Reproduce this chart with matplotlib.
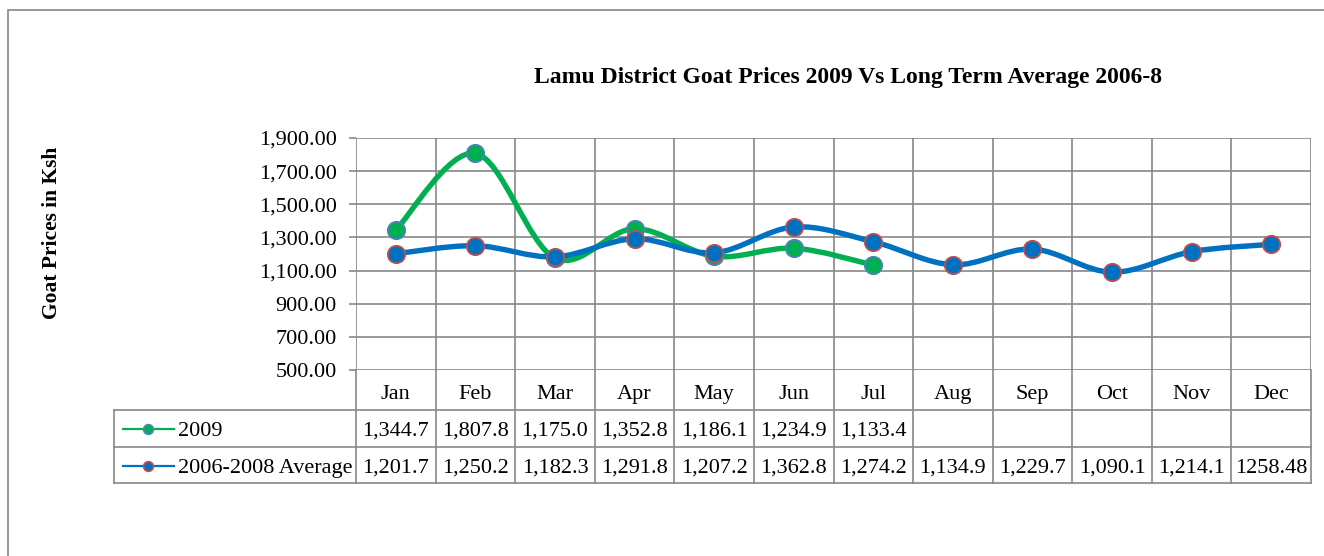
import numpy as np
import matplotlib
matplotlib.use("Agg")
import matplotlib.pyplot as plt
from matplotlib.path import Path
from matplotlib.patches import PathPatch, Rectangle

# chart data
months = ["Jan", "Feb", "Mar", "Apr", "May", "Jun", "Jul", "Aug", "Sep", "Oct", "Nov", "Dec"]
prices_2009 = [1344.7, 1807.8, 1175.0, 1352.8, 1186.1, 1234.9, 1133.4]
prices_avg = [1201.7, 1250.2, 1182.3, 1291.8, 1207.2, 1362.8, 1274.2,
              1134.9, 1229.7, 1090.1, 1214.1, 1258.48]
series_names = ["2009", "2006-2008 Average"]
y_ticks = list(range(500, 2000, 200))

plt.rcParams['font.family'] = ['Liberation Serif', 'DejaVu Serif']

W, H = 1324, 556
GRID = "#878787"
GREEN, BLUE = "#00B050", "#0070C0"
GREEN_EDGE, BLUE_EDGE = "#4F81BD", "#C0504D"
FS = 16


def box(l, t, r, b):
    # pixel box -> figure fraction rect
    return [l / W, 1 - b / H, (r - l) / W, (b - t) / H]


def smooth_path(xs, ys):
    # excel-like smoothed line: cubic bezier through the points
    pts = np.column_stack([xs, ys]).astype(float)
    n = len(pts)
    verts = [pts[0]]
    codes = [Path.MOVETO]
    for i in range(n - 1):
        p0 = pts[max(i - 1, 0)]
        p1 = pts[i]
        p2 = pts[i + 1]
        p3 = pts[min(i + 2, n - 1)]
        verts += [p1 + (p2 - p0) / 6, p2 - (p3 - p1) / 6, p2]
        codes += [Path.CURVE4] * 3
    return Path(verts, codes)


def fmt(v):
    if round(v, 1) != v:
        return str(v)
    return f"{v:,.1f}"


fig = plt.figure(figsize=(W / 100, H / 100), dpi=100)

# outer chart border
fig.add_artist(Rectangle((8 / W, 1 - 600 / H), 1400 / W, (600 - 10) / H,
                         transform=fig.transFigure, fill=False,
                         edgecolor=GRID, lw=1.2))

fig.text(848 / W, 1 - 78 / H,
         "Lamu District Goat Prices 2009 Vs Long Term Average 2006-8",
         ha="center", va="center", fontsize=17, fontweight="bold")
fig.text(52 / W, 1 - 233 / H, "Goat Prices in Ksh", rotation=90,
         ha="center", va="center", fontsize=15.5, fontweight="bold")

# plot area
ax = fig.add_axes(box(356, 138, 1311, 370))
ax.set_xlim(-0.5, 11.5)
ax.set_ylim(500, 1900)
for s in ax.spines.values():
    s.set_visible(False)
for v in y_ticks:
    ax.axhline(v, color=GRID, lw=1.2, zorder=1)
for k in range(13):
    ax.axvline(k - 0.5, color=GRID, lw=1.2, zorder=1)
ax.set_xticks([])
ax.set_yticks(y_ticks)
ax.set_yticklabels([f"{v:,.2f}" for v in y_ticks], fontsize=FS, va="center_baseline")
ax.tick_params(axis="y", color=GRID, length=5, width=1.2, pad=9)

x = np.arange(len(months))
ax.add_patch(PathPatch(smooth_path(x[:len(prices_2009)], prices_2009),
                       fill=False, edgecolor=GREEN, lw=3.9, zorder=3,
                       capstyle="round", joinstyle="round"))
ax.plot(x[:len(prices_2009)], prices_2009, "o", ms=12.5, mfc=GREEN,
        mec=GREEN_EDGE, mew=1.3, zorder=4)
ax.add_patch(PathPatch(smooth_path(x, prices_avg), fill=False,
                       edgecolor=BLUE, lw=3.9, zorder=5,
                       capstyle="round", joinstyle="round"))
ax.plot(x, prices_avg, "o", ms=12.5, mfc=BLUE, mec=BLUE_EDGE, mew=1.3,
        zorder=6)

# data table below the plot
col_w = (1311 - 356) / 12
x_left = -0.5 - (356 - 114) / col_w
tax = fig.add_axes(box(114, 370, 1311, 483))
tax.set_xlim(x_left, 11.5)
tax.set_ylim(113, 0)
tax.axis("off")


def px(xp):
    return -0.5 + (xp - 356) / col_w


for yy in (40, 77, 113):
    tax.plot([x_left, 11.5], [yy, yy], color=GRID, lw=1.2, clip_on=False)
tax.plot([x_left, x_left], [40, 113], color=GRID, lw=1.2, clip_on=False)
for k in range(13):
    tax.plot([k - 0.5, k - 0.5], [0, 113], color=GRID, lw=1.2, clip_on=False)

for i, m in enumerate(months):
    tax.text(i, 29, m, ha="center", va="baseline", fontsize=FS)

rows = [(prices_2009, GREEN, GREEN_EDGE, 59), (prices_avg, BLUE, BLUE_EDGE, 96)]
for (vals, col, edge, yy), name in zip(rows, series_names):
    for i, v in enumerate(vals):
        tax.text(i, yy + 7, fmt(v), ha="center", va="baseline", fontsize=FS)
    tax.plot([px(123), px(174)], [yy, yy], color=col, lw=1.6, clip_on=False)
    tax.plot([px(148)], [yy], "o", ms=7, mfc=col, mec=edge, mew=1.2,
             clip_on=False)
    tax.text(px(178), yy + 7, name, ha="left", va="baseline", fontsize=FS)

fig.savefig("out.png", dpi=100)
